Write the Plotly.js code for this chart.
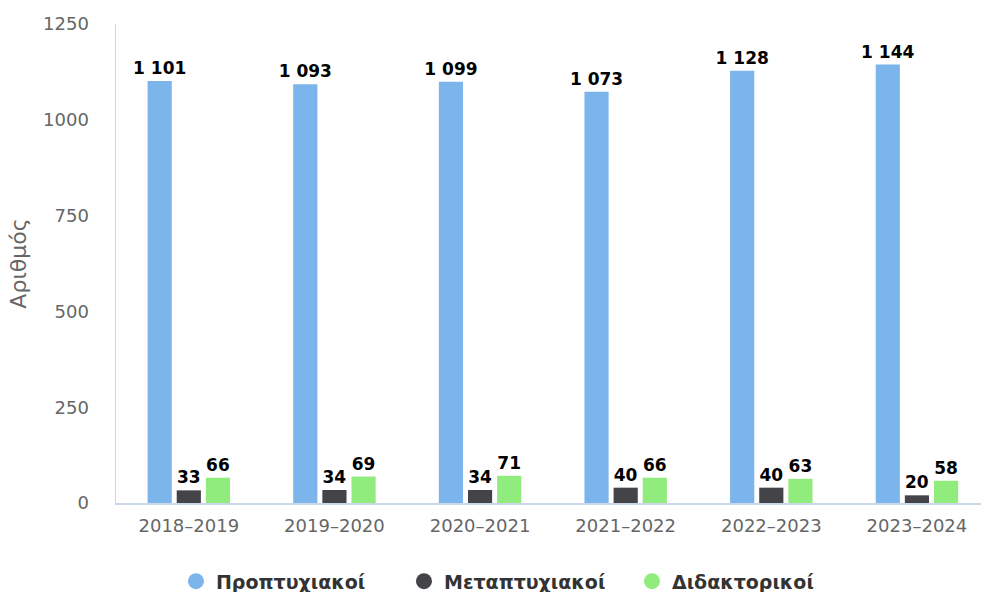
<!DOCTYPE html>
<html>
<head>
<meta charset="utf-8">
<script src="https://cdn.plot.ly/plotly-3.0.1.min.js"></script>
<style>html,body{margin:0;padding:0;background:#fff;}#chart{width:981px;height:592px;}</style>
</head>
<body>
<div id="chart"></div>
<script>
var categories = ["2018–2019", "2019–2020", "2020–2021", "2021–2022", "2022–2023", "2023–2024"];
var undergrad = [1101, 1093, 1099, 1073, 1128, 1144];
var postgrad = [33, 34, 34, 40, 40, 20];
var doctoral = [66, 69, 71, 66, 63, 58];
var seriesNames = ["Προπτυχιακοί", "Μεταπτυχιακοί", "Διδακτορικοί"];
var colors = ["#7cb5ec", "#434348", "#90ed7d"];
var seriesValues = [undergrad, postgrad, doctoral];

var font = "DejaVu Sans, sans-serif";
var traces = [];
seriesValues.forEach(function (vals, i) {
  traces.push({
    type: "bar",
    x: categories,
    y: vals,
    name: seriesNames[i],
    marker: {color: colors[i]},
    texttemplate: "%{y:,}",
    textposition: "outside",
    constraintext: "none",
    cliponaxis: false,
    textfont: {family: font, size: 17, color: "#000", weight: "bold"},
    showlegend: false,
    hoverinfo: "x+y"
  });
});
seriesValues.forEach(function (vals, i) {
  traces.push({
    type: "scatter",
    mode: "markers",
    x: [null],
    y: [null],
    name: seriesNames[i],
    marker: {color: colors[i], size: 16, symbol: "circle"},
    showlegend: true
  });
});

var layout = {
  width: 981,
  height: 592,
  margin: {l: 116, r: 0, t: 24, b: 89},
  paper_bgcolor: "#fff",
  plot_bgcolor: "#fff",
  separators: ", ",
  barmode: "group",
  bargap: 0.40,
  bargroupgap: 0.17,
  font: {family: font, color: "#666"},
  xaxis: {
    type: "category",
    range: [-0.5, 5.44],
    showline: true,
    linecolor: "#ccd6eb",
    linewidth: 1.5,
    ticks: "",
    showgrid: false,
    zeroline: false,
    tickfont: {family: font, size: 18, color: "#666"},
    ticklabelstandoff: 6
  },
  yaxis: {
    range: [0, 1250],
    tickvals: [0, 250, 500, 750, 1000, 1250],
    ticktext: ["0", "250", "500", "750", "1000", "1250"],
    showline: true,
    linecolor: "#ccd6eb",
    linewidth: 1.5,
    showgrid: false,
    zeroline: false,
    ticks: "",
    tickfont: {family: font, size: 18, color: "#666"},
    ticklabelstandoff: 22,
    title: {text: "Αριθμός", font: {family: font, size: 22, color: "#666"}, standoff: 10}
  },
  legend: {
    orientation: "h",
    xref: "container",
    yref: "container",
    x: 0.528,
    xanchor: "center",
    y: 0.018,
    yanchor: "middle",
    entrywidth: 183,
    entrywidthmode: "pixels",
    font: {family: font, size: 19, color: "#333", weight: "bold"},
    traceorder: "normal"
  },
  showlegend: true
};

Plotly.newPlot("chart", traces, layout, {displayModeBar: false, staticPlot: true});
</script>
</body>
</html>
